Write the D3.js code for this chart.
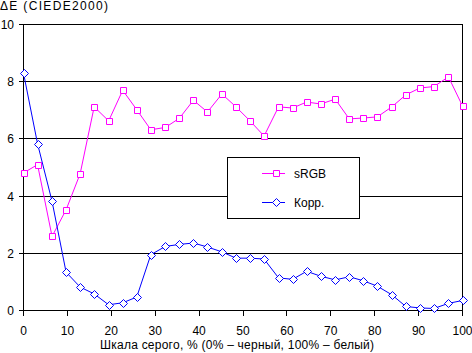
<!DOCTYPE html>
<html>
<head>
<meta charset="utf-8">
<script src="https://cdn.jsdelivr.net/npm/d3@7"></script>
<style>
html,body{margin:0;padding:0;background:#fff;}
svg{display:block;font-family:"Liberation Sans",Arial,sans-serif;}
</style>
</head>
<body>
<svg id="chart" width="472" height="353"></svg>
<script>
const xValues = [0,3.2,6.5,9.7,12.9,16.1,19.4,22.6,25.8,29,32.3,35.5,38.7,41.9,45.2,48.4,51.6,54.8,58.1,61.3,64.5,67.7,71,74.2,77.4,80.6,83.9,87.1,90.3,93.5,96.8,100];
const srgbValues = [4.81,5.10,2.59,3.52,4.78,7.12,6.63,7.70,7.02,6.32,6.40,6.72,7.35,6.94,7.57,7.12,6.63,6.10,7.12,7.08,7.29,7.22,7.39,6.70,6.73,6.77,7.12,7.54,7.78,7.83,8.17,7.15];
const korrValues = [8.30,5.83,3.82,1.34,0.82,0.58,0.20,0.27,0.47,1.95,2.24,2.31,2.36,2.22,2.05,1.83,1.83,1.80,1.14,1.09,1.37,1.20,1.07,1.18,1.04,0.85,0.55,0.14,0.09,0.07,0.25,0.35];
const seriesNames = ["sRGB","Корр."];
const xTicks = [0,10,20,30,40,50,60,70,80,90,100];
const yTicks = [0,2,4,6,8,10];
const yTitle = "ΔE (CIEDE2000)";
const xTitle = "Шкала серого, % (0% – черный, 100% – белый)";

const svg = d3.select("#chart");
const x = d3.scaleLinear().domain([0,100]).range([23.5,462.5]);
const y = d3.scaleLinear().domain([0,10]).range([310.5,24.5]);
const px = v => Math.round(x(v)-0.5)+0.5;
const py = v => Math.round(y(v)-0.5)+0.5;
const fs = 12;

// gridlines
svg.append("g").selectAll("line").data(yTicks.filter(d=>d>0)).join("line")
  .attr("x1", 19).attr("x2", px(100)).attr("y1", d=>py(d)).attr("y2", d=>py(d))
  .attr("stroke","#000").attr("shape-rendering","crispEdges");
svg.append("line").attr("x1",px(0)).attr("x2",px(0)).attr("y1",py(10)).attr("y2",py(0))
  .attr("stroke","#000").attr("shape-rendering","crispEdges");
svg.append("line").attr("x1",19).attr("x2",px(100)).attr("y1",py(0)).attr("y2",py(0))
  .attr("stroke","#000").attr("shape-rendering","crispEdges");
svg.append("line").attr("x1",px(100)).attr("x2",px(100)).attr("y1",py(10)).attr("y2",py(0))
  .attr("stroke","#000").attr("shape-rendering","crispEdges");
svg.append("g").selectAll("line").data(xTicks).join("line")
  .attr("x1", d=>px(d)).attr("x2", d=>px(d)).attr("y1", py(0)).attr("y2", py(0)+5)
  .attr("stroke","#000").attr("shape-rendering","crispEdges");
svg.append("g").selectAll("text").data(yTicks).join("text")
  .attr("x", 14).attr("y", d=>y(d)+4.5).attr("text-anchor","end")
  .attr("font-size", fs).text(d=>d);
svg.append("g").selectAll("text").data(xTicks).join("text")
  .attr("x", d=>x(d)).attr("y", 335).attr("text-anchor","middle")
  .attr("font-size", fs).text(d=>d);
svg.append("text").attr("x",0).attr("y",10).attr("font-size",fs)
  .attr("textLength",108).attr("lengthAdjust","spacing").text(yTitle);
svg.append("text").attr("x",100).attr("y",349).attr("font-size",fs)
  .attr("textLength",274).attr("lengthAdjust","spacing").text(xTitle);

const colors = ["#ff00ff","#0000ff"];
const datasets = [srgbValues, korrValues];
const line = d3.line().x((d,i)=>x(xValues[i])).y(d=>y(d));
const square = d3.symbol().type(d3.symbolSquare).size(36);
const diamond = "M0,-4L4,0L0,4L-4,0Z";

datasets.forEach((vals, s) => {
  svg.append("path").datum(vals).attr("d", line).attr("fill","none")
    .attr("stroke", colors[s]).attr("stroke-width",1);
  const g = svg.append("g");
  g.selectAll("path").data(vals).join("path")
    .attr("transform",(d,i)=>`translate(${Math.round(x(xValues[i]))+0.5},${Math.round(y(d))+0.5})`)
    .attr("d", s===0 ? square() : diamond)
    .attr("fill","#fff").attr("stroke",colors[s]).attr("stroke-width",1);
});

const lg = svg.append("g");
lg.append("rect").attr("x",227.5).attr("y",157.5).attr("width",132).attr("height",61)
  .attr("fill","#fff").attr("stroke","#000").attr("shape-rendering","crispEdges");
seriesNames.forEach((name, s) => {
  const ly = s===0 ? 173.5 : 202.5;
  lg.append("line").attr("x1",262).attr("x2",285).attr("y1",ly).attr("y2",ly)
    .attr("stroke",colors[s]).attr("shape-rendering","crispEdges");
  lg.append("path").attr("transform",`translate(276.5,${ly})`)
    .attr("d", s===0 ? square() : diamond)
    .attr("fill","#fff").attr("stroke",colors[s]);
  lg.append("text").attr("x",294).attr("y",ly+4.5).attr("font-size",fs).text(name);
});
</script>
</body>
</html>
